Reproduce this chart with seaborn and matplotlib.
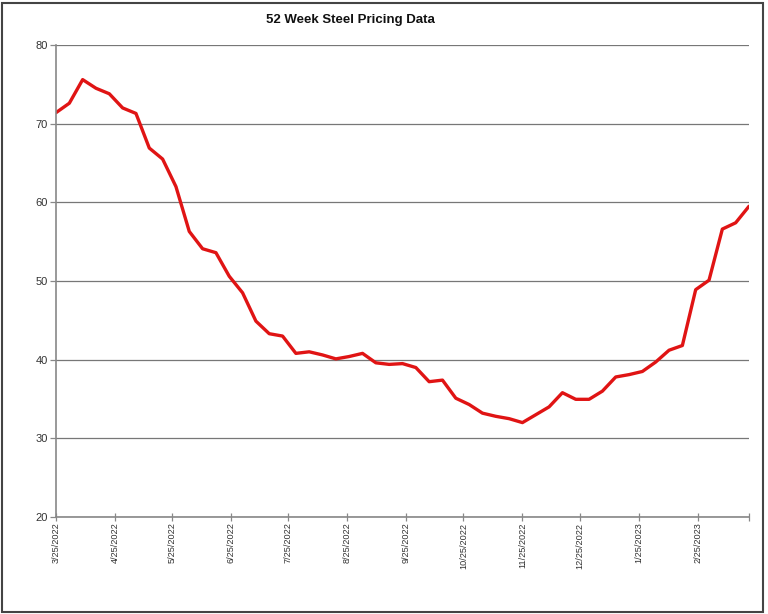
import datetime as dt
import numpy as np
import pandas as pd
import matplotlib
matplotlib.use("Agg")
import matplotlib.pyplot as plt
import matplotlib.dates as mdates
from matplotlib.patches import Rectangle
import seaborn as sns

# ---- data ----
start_date = "2022-03-25"
n_weeks = 53
prices = [71.4, 72.6, 75.6, 74.5, 73.8, 72.0, 71.3, 66.9, 65.5, 62.0,
          56.3, 54.1, 53.6, 50.6, 48.5, 44.9, 43.3, 43.0, 40.8, 41.0,
          40.6, 40.1, 40.4, 40.8, 39.6, 39.4, 39.5, 39.0, 37.2, 37.4,
          35.1, 34.3, 33.2, 32.8, 32.5, 32.0, 33.0, 34.0, 35.8, 34.96,
          34.96, 36.0, 37.8, 38.1, 38.5, 39.7, 41.2, 41.8, 48.9, 50.1,
          56.6, 57.4, 59.5]
tick_labels = ["3/25/2022", "4/25/2022", "5/25/2022", "6/25/2022", "7/25/2022",
               "8/25/2022", "9/25/2022", "10/25/2022", "11/25/2022",
               "12/25/2022", "1/25/2023", "2/25/2023"]
y_ticks = [20, 30, 40, 50, 60, 70, 80]
title = "52 Week Steel Pricing Data"

dates = pd.date_range(start_date, periods=n_weeks, freq="7D")
df = pd.DataFrame({"date": dates, "price": prices})

sns.set_theme(style="white")
plt.rcParams["font.family"] = ["Liberation Sans", "DejaVu Sans"]

fig = plt.figure(figsize=(7.68, 6.14), dpi=100)
ax = fig.add_axes([56 / 768, 1 - 517 / 614, (749 - 56) / 768, (517 - 45) / 614])

sns.lineplot(data=df, x="date", y="price", ax=ax, color="#E01414",
             linewidth=2.4, legend=False)

ax.set_xlim(dates[0], dates[-1])
ax.set_ylim(y_ticks[0], y_ticks[-1])
ax.set_yticks(y_ticks)
ax.set_yticklabels([str(v) for v in y_ticks], fontsize=8, color="#333333")

tick_dates = [pd.Timestamp(dt.datetime.strptime(t, "%m/%d/%Y")) for t in tick_labels]
ax.set_xticks(tick_dates)
ax.set_xticklabels(tick_labels, rotation=90, fontsize=6.6, color="#333333")
ax.set_xticks([dates[-1]], minor=True)

ax.set_xlabel("")
ax.set_ylabel("")

ax.yaxis.grid(True, color="#777777", linewidth=0.9)
ax.xaxis.grid(False)
for side in ["top", "right"]:
    ax.spines[side].set_visible(False)
for side in ["left", "bottom"]:
    ax.spines[side].set_color("#888888")
    ax.spines[side].set_linewidth(1.2)

ax.tick_params(axis="y", which="major", direction="out", length=4,
               width=0.9, color="#888888", left=True, pad=2)
ax.tick_params(axis="x", which="both", direction="inout", length=6,
               width=0.9, color="#888888", bottom=True, pad=1)

fig.text(350 / 768, 1 - 20 / 614, title, ha="center", va="center",
         fontsize=9.5, fontweight="bold", color="#111111")

fig.patches.append(Rectangle((1.5 / 768, 2.5 / 614), 761 / 768, 609 / 614,
                             transform=fig.transFigure, fill=False,
                             edgecolor="#444444", linewidth=1.5))

fig.savefig("out.png", dpi=100, facecolor="white")
